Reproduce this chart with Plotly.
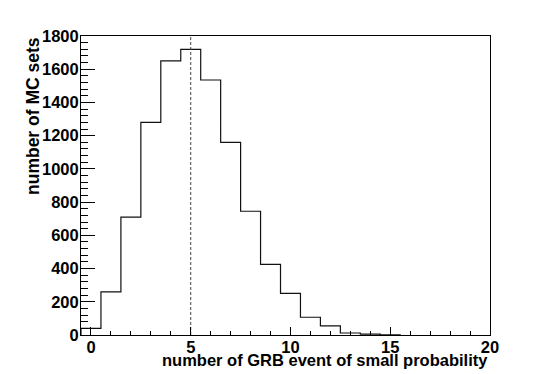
import plotly.graph_objects as go

# Data (bin centres = integer counts)
bin_centers = [0, 1, 2, 3, 4, 5, 6, 7, 8, 9, 10, 11, 12, 13, 14, 15]
counts = [40, 260, 710, 1280, 1650, 1720, 1535, 1160, 745, 425, 250, 107, 55, 12, 5, 1]
mean_value = 5
x_title = "number of GRB event of small probability"
y_title = "number of MC sets"

# Build step outline from bin data
half = 0.5
xs = [bin_centers[0] - half] + [c - half for c in bin_centers] + [bin_centers[-1] + half]
ys = [0] + counts + [0]

fig = go.Figure()
fig.add_trace(go.Scatter(
    x=xs, y=ys, mode="lines", line=dict(color="#111111", width=1.2, shape="hv"),
    hoverinfo="skip", showlegend=False,
))
fig.add_trace(go.Scatter(
    x=[mean_value, mean_value], y=[0, 1800], mode="lines",
    line=dict(color="#444444", width=1, dash="3px,2px"),
    hoverinfo="skip", showlegend=False,
))

font_family = "Liberation Sans, Arial, sans-serif"
tickfont = dict(family=font_family, size=16.5, color="black", weight="bold")

# page body has an 8px default margin -> figure is 8px smaller, margins shifted
fig.update_layout(
    width=537, height=366,
    margin=dict(l=73, r=55, t=28, b=39),
    paper_bgcolor="white", plot_bgcolor="white",
    xaxis=dict(
        range=[-0.5, 20], tick0=0, dtick=5, ticks="inside", ticklen=8,
        tickcolor="black", tickwidth=1, showline=True, linecolor="black",
        linewidth=1, mirror=True, showgrid=False, zeroline=False,
        tickfont=tickfont, ticklabelstandoff=-3,
        minor=dict(ticks="inside", ticklen=4, dtick=1, tick0=0,
                   tickcolor="black", showgrid=False),
    ),
    yaxis=dict(
        range=[0, 1800], tick0=0, dtick=200, ticks="inside", ticklen=14,
        tickcolor="black", tickwidth=1, showline=True, linecolor="black",
        linewidth=1, mirror=True, showgrid=False, zeroline=False,
        tickfont=tickfont, ticklabelstandoff=-2,
        minor=dict(ticks="inside", ticklen=7, dtick=40, tick0=0,
                   tickcolor="black", showgrid=False),
    ),
    annotations=[
        dict(text=x_title, xref="paper", yref="paper", x=1, y=0,
             xanchor="right", yanchor="middle", yshift=-25, showarrow=False,
             font=dict(family=font_family, size=16.5, color="black", weight="bold")),
        dict(text=y_title, xref="paper", yref="paper", x=0, y=1,
             xanchor="center", yanchor="top", xshift=-48, yshift=1,
             textangle=-90, showarrow=False,
             font=dict(family=font_family, size=17.5, color="black", weight="bold")),
    ],
)

fig.write_html("out.html")
